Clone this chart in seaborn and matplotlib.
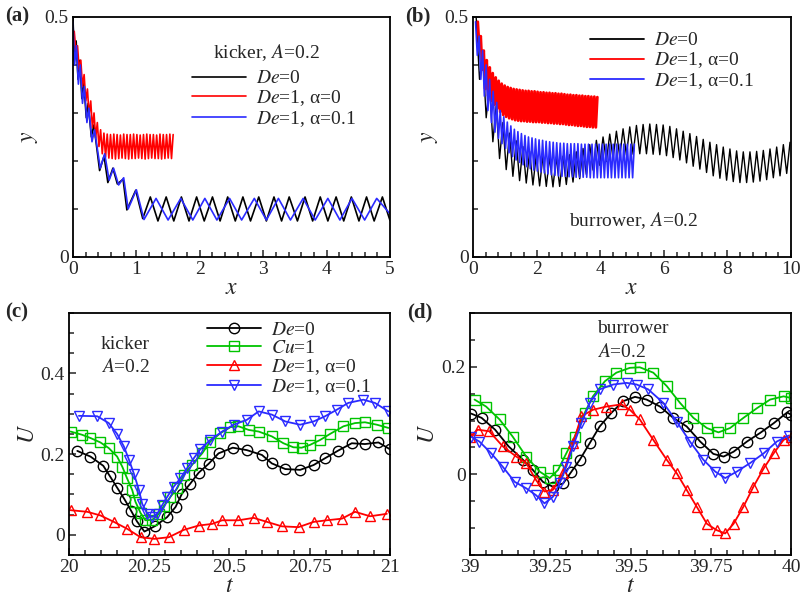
import matplotlib
matplotlib.use("Agg")
import matplotlib.pyplot as plt
from matplotlib.ticker import MultipleLocator, FormatStrFormatter
import seaborn as sns

# ---------------- data ----------------
# (a) kicker trajectories: turning points (x, y)
black_a_x = [0.00, 0.02, 0.05, 0.08, 0.11, 0.14, 0.17, 0.21, 0.24, 0.29, 0.33, 0.42, 0.49, 0.55,
             0.63, 0.70, 0.79, 0.85, 0.99, 1.10, 1.22, 1.34, 1.47, 1.59, 1.71, 1.83, 1.95, 2.07,
             2.20, 2.32, 2.44, 2.56, 2.68, 2.80, 2.93, 3.05, 3.17, 3.29, 3.41, 3.54, 3.66, 3.78,
             3.90, 4.02, 4.15, 4.27, 4.39, 4.51, 4.63, 4.75, 4.88, 5.00]
black_a_y = [0.50, 0.41, 0.45, 0.37, 0.41, 0.33, 0.365, 0.29, 0.32, 0.25, 0.275, 0.18, 0.21, 0.155,
             0.185, 0.152, 0.162, 0.098, 0.139, 0.080, 0.125, 0.075, 0.125, 0.075, 0.125, 0.075,
             0.125, 0.075, 0.125, 0.075, 0.125, 0.075, 0.125, 0.075, 0.125, 0.075, 0.125, 0.075,
             0.125, 0.075, 0.125, 0.075, 0.125, 0.075, 0.125, 0.075, 0.125, 0.075, 0.125, 0.075,
             0.125, 0.076]
blue_a_x = [0.00, 0.025, 0.055, 0.085, 0.115, 0.15, 0.18, 0.22, 0.25, 0.30, 0.34, 0.43, 0.50, 0.57,
            0.64, 0.72, 0.80, 0.87, 1.00, 1.12, 1.31, 1.50, 1.70, 1.89, 2.08, 2.27, 2.47, 2.66,
            2.86, 3.05, 3.24, 3.43, 3.63, 3.82, 4.02, 4.21, 4.40, 4.60, 4.79, 5.00]
blue_a_y = [0.49, 0.40, 0.44, 0.36, 0.40, 0.32, 0.355, 0.28, 0.31, 0.24, 0.265, 0.185, 0.215, 0.16,
            0.185, 0.15, 0.165, 0.10, 0.14, 0.078, 0.122, 0.077, 0.122, 0.077, 0.122, 0.077, 0.122,
            0.077, 0.122, 0.077, 0.122, 0.077, 0.122, 0.077, 0.122, 0.077, 0.122, 0.077, 0.122, 0.09]
# dense bands: crest / trough of every stroke, first crest x and stroke length
red_a_x0, red_a_step = 0.02, 0.052
red_a_hi = [0.47, 0.44, 0.41, 0.38, 0.35, 0.325, 0.30, 0.28, 0.265, 0.258,
            0.256, 0.255, 0.256, 0.255, 0.254, 0.256, 0.255, 0.255, 0.256, 0.255,
            0.254, 0.255, 0.256, 0.255, 0.255, 0.254, 0.256, 0.255, 0.255, 0.256, 0.255]
red_a_lo = [0.43, 0.39, 0.355, 0.325, 0.295, 0.27, 0.248, 0.23, 0.215, 0.208,
            0.206, 0.205, 0.204, 0.205, 0.206, 0.205, 0.204, 0.205, 0.205, 0.206,
            0.205, 0.204, 0.205, 0.206, 0.205, 0.205, 0.204, 0.205, 0.206, 0.205]

# (b) burrower trajectories
black_b_x0, black_b_step = 0.10, 0.21
black_b_hi = [0.50, 0.42, 0.36, 0.315, 0.28, 0.258, 0.242, 0.23, 0.22, 0.213,
              0.21, 0.208, 0.208, 0.21, 0.213, 0.219, 0.226, 0.234, 0.243, 0.25,
              0.256, 0.262, 0.267, 0.271, 0.274, 0.276, 0.277, 0.276, 0.275, 0.272,
              0.267, 0.262, 0.257, 0.251, 0.245, 0.239, 0.234, 0.229, 0.225, 0.221,
              0.219, 0.219, 0.22, 0.222, 0.225, 0.229, 0.234, 0.239]
black_b_lo = [0.37, 0.29, 0.24, 0.205, 0.182, 0.168, 0.159, 0.154, 0.15, 0.148,
              0.147, 0.146, 0.147, 0.151, 0.156, 0.163, 0.172, 0.181, 0.191, 0.199,
              0.205, 0.209, 0.212, 0.214, 0.215, 0.215, 0.214, 0.213, 0.211, 0.207,
              0.202, 0.196, 0.189, 0.183, 0.176, 0.169, 0.164, 0.16, 0.157, 0.155,
              0.155, 0.156, 0.158, 0.161, 0.165, 0.169, 0.174]
red_b_x0, red_b_step = 0.15, 0.094
red_b_hi = [0.49, 0.46, 0.43, 0.41, 0.395, 0.383, 0.374, 0.367, 0.361, 0.357,
            0.354, 0.352, 0.35, 0.349, 0.348, 0.347, 0.346, 0.346, 0.345, 0.345,
            0.344, 0.343, 0.343, 0.342, 0.342, 0.341, 0.341, 0.34, 0.34, 0.339,
            0.338, 0.338, 0.337, 0.337, 0.336, 0.336, 0.335, 0.335, 0.334, 0.334, 0.333]
red_b_lo = [0.44, 0.39, 0.35, 0.335, 0.325, 0.317, 0.309, 0.302, 0.296, 0.292,
            0.289, 0.287, 0.285, 0.284, 0.283, 0.283, 0.282, 0.282, 0.281, 0.281,
            0.281, 0.28, 0.28, 0.279, 0.279, 0.278, 0.278, 0.277, 0.277, 0.276,
            0.275, 0.275, 0.274, 0.273, 0.273, 0.272, 0.271, 0.271, 0.27, 0.27]
blue_b_x0, blue_b_step = 0.08, 0.111
blue_b_hi = [0.49, 0.46, 0.43, 0.40, 0.37, 0.345, 0.322, 0.305, 0.292, 0.281,
             0.273, 0.266, 0.261, 0.257, 0.253, 0.25, 0.248, 0.246, 0.244, 0.243,
             0.241, 0.24, 0.239, 0.238, 0.237, 0.237, 0.236, 0.236, 0.236, 0.236,
             0.235, 0.235, 0.235, 0.235, 0.235, 0.235, 0.235, 0.235, 0.235, 0.235,
             0.235, 0.235, 0.235, 0.235, 0.235, 0.235]
blue_b_lo = [0.42, 0.37, 0.335, 0.305, 0.28, 0.26, 0.247, 0.236, 0.226, 0.217,
             0.209, 0.202, 0.197, 0.192, 0.188, 0.184, 0.181, 0.179, 0.177, 0.175,
             0.173, 0.171, 0.17, 0.169, 0.168, 0.168, 0.167, 0.167, 0.166, 0.166,
             0.166, 0.166, 0.165, 0.165, 0.165, 0.165, 0.165, 0.165, 0.165, 0.165,
             0.165, 0.165, 0.165, 0.165, 0.165]

# (c) kicker swimming speed U(t)
c_black_t = [20.026, 20.067, 20.107, 20.127, 20.150, 20.173, 20.194, 20.212, 20.235, 20.269,
             20.306, 20.332, 20.352, 20.378, 20.404, 20.435, 20.466, 20.510, 20.554, 20.601,
             20.632, 20.674, 20.720, 20.762, 20.798, 20.839, 20.881, 20.922, 20.964, 21.0]
c_black_u = [0.208, 0.194, 0.171, 0.146, 0.117, 0.088, 0.059, 0.033, 0.008, 0.022,
             0.044, 0.069, 0.102, 0.127, 0.154, 0.176, 0.202, 0.216, 0.210, 0.198,
             0.177, 0.163, 0.161, 0.173, 0.190, 0.209, 0.227, 0.225, 0.229, 0.212]
c_green_t = [20.005, 20.041, 20.067, 20.098, 20.124, 20.150, 20.166, 20.181, 20.197, 20.207,
             20.223, 20.238, 20.259, 20.280, 20.295, 20.316, 20.337, 20.357, 20.383, 20.415,
             20.440, 20.472, 20.503, 20.528, 20.560, 20.591, 20.632, 20.668, 20.699, 20.725,
             20.751, 20.782, 20.813, 20.855, 20.891, 20.922, 20.959, 20.995]
c_green_u = [0.256, 0.248, 0.240, 0.229, 0.215, 0.194, 0.169, 0.140, 0.111, 0.082,
             0.054, 0.036, 0.037, 0.052, 0.071, 0.094, 0.115, 0.148, 0.173, 0.202,
             0.231, 0.252, 0.267, 0.269, 0.260, 0.256, 0.244, 0.227, 0.217, 0.216,
             0.223, 0.235, 0.250, 0.269, 0.277, 0.279, 0.273, 0.265]
c_red_t = [20.005, 20.057, 20.098, 20.140, 20.181, 20.223, 20.266, 20.311, 20.357, 20.404,
           20.446, 20.477, 20.528, 20.575, 20.617, 20.663, 20.715, 20.762, 20.803, 20.850,
           20.891, 20.938, 20.990]
c_red_u = [0.061, 0.057, 0.048, 0.032, 0.015, -0.006, -0.010, -0.006, 0.012, 0.023,
           0.027, 0.036, 0.036, 0.042, 0.032, 0.021, 0.019, 0.032, 0.036, 0.040,
           0.057, 0.046, 0.052]
c_blue_t = [20.031, 20.088, 20.124, 20.150, 20.171, 20.187, 20.202, 20.218, 20.228, 20.244,
            20.259, 20.275, 20.290, 20.306, 20.326, 20.347, 20.368, 20.389, 20.409, 20.440,
            20.477, 20.513, 20.554, 20.591, 20.632, 20.674, 20.720, 20.762, 20.798, 20.834,
            20.870, 20.917, 20.953, 20.995]
c_blue_u = [0.295, 0.294, 0.277, 0.250, 0.219, 0.186, 0.152, 0.111, 0.077, 0.052,
            0.044, 0.052, 0.073, 0.094, 0.119, 0.140, 0.165, 0.190, 0.212, 0.235,
            0.256, 0.273, 0.285, 0.306, 0.298, 0.281, 0.273, 0.281, 0.294, 0.310,
            0.327, 0.335, 0.327, 0.306]

# (d) burrower swimming speed U(t)
d_black_t = [39.003, 39.036, 39.078, 39.120, 39.165, 39.196, 39.227, 39.258, 39.290, 39.316,
             39.342, 39.373, 39.404, 39.440, 39.477, 39.514, 39.550, 39.592, 39.633, 39.675,
             39.717, 39.758, 39.790, 39.821, 39.863, 39.904, 39.946, 39.988, 40.0]
d_black_u = [0.113, 0.105, 0.083, 0.052, 0.027, 0.008, -0.014, -0.023, -0.017, 0.005,
             0.027, 0.058, 0.089, 0.114, 0.136, 0.144, 0.139, 0.126, 0.105, 0.089,
             0.061, 0.038, 0.033, 0.042, 0.061, 0.077, 0.095, 0.115, 0.111]
d_green_t = [39.014, 39.050, 39.092, 39.133, 39.175, 39.217, 39.248, 39.274, 39.300, 39.326,
             39.357, 39.383, 39.420, 39.456, 39.498, 39.529, 39.571, 39.613, 39.654, 39.696,
             39.738, 39.774, 39.810, 39.852, 39.894, 39.935, 39.977, 40.0]
d_green_u = [0.139, 0.126, 0.102, 0.070, 0.033, 0.005, -0.007, 0.008, 0.039, 0.070,
             0.114, 0.145, 0.173, 0.189, 0.198, 0.199, 0.189, 0.164, 0.133, 0.105,
             0.086, 0.078, 0.086, 0.105, 0.123, 0.139, 0.145, 0.142]
d_red_t = [39.0, 39.024, 39.060, 39.102, 39.144, 39.175, 39.206, 39.232, 39.258, 39.290,
           39.321, 39.347, 39.383, 39.425, 39.472, 39.498, 39.529, 39.571, 39.613, 39.644,
           39.675, 39.706, 39.738, 39.769, 39.795, 39.821, 39.852, 39.883, 39.915, 39.946,
           39.977, 40.0]
d_red_u = [0.070, 0.083, 0.080, 0.052, 0.033, 0.021, -0.011, -0.032, -0.029, 0.002,
           0.058, 0.108, 0.120, 0.126, 0.130, 0.120, 0.102, 0.064, 0.027, 0.002,
           -0.029, -0.060, -0.092, -0.104, -0.110, -0.092, -0.060, -0.023, 0.011, 0.039,
           0.064, 0.070]
d_blue_t = [39.003, 39.029, 39.066, 39.102, 39.139, 39.175, 39.206, 39.232, 39.258, 39.279,
            39.300, 39.321, 39.347, 39.373, 39.404, 39.446, 39.488, 39.519, 39.555, 39.602,
            39.644, 39.685, 39.727, 39.764, 39.795, 39.831, 39.873, 39.915, 39.956, 39.993]
d_blue_u = [0.070, 0.061, 0.039, 0.014, -0.014, -0.026, -0.039, -0.054, -0.042, -0.017,
            0.014, 0.052, 0.095, 0.133, 0.158, 0.167, 0.170, 0.167, 0.158, 0.133,
            0.098, 0.061, 0.027, 0.005, -0.007, 0.005, 0.021, 0.039, 0.061, 0.072]

lab_de0 = r'$De$=0'
lab_cu1 = r'$Cu$=1'
lab_a0 = r'$De$=1, α=0'
lab_a01 = r'$De$=1, α=0.1'
GREEN = '#00c400'
BLUE = '#2b2bff'


def zigzag(x0, step, hi, lo):
    # one crest per stroke, trough half a stroke later
    xs, ys = [], []
    for k, h in enumerate(hi):
        xs.append(x0 + k * step)
        ys.append(h)
        if k < len(lo):
            xs.append(x0 + (k + 0.5) * step)
            ys.append(lo[k])
    return xs, ys


# ---------------- style ----------------
sns.set_theme(style="ticks")
plt.rcParams['font.family'] = ['Liberation Serif', 'DejaVu Serif']
plt.rcParams['mathtext.fontset'] = 'stix'
plt.rcParams['axes.linewidth'] = 1.3

fig = plt.figure(figsize=(8.01, 5.99), dpi=100)
ax_a = fig.add_axes([0.0911, 0.5710, 0.3958, 0.4007])
ax_b = fig.add_axes([0.5905, 0.5710, 0.3970, 0.4007])
ax_c = fig.add_axes([0.0861, 0.0735, 0.4008, 0.4040])
ax_d = fig.add_axes([0.5868, 0.0735, 0.4007, 0.4040])


def style_axis(ax, xmaj, xmin, ymaj, ymin):
    ax.xaxis.set_major_locator(MultipleLocator(xmaj))
    ax.xaxis.set_minor_locator(MultipleLocator(xmin))
    ax.yaxis.set_major_locator(MultipleLocator(ymaj))
    ax.yaxis.set_minor_locator(MultipleLocator(ymin))
    ax.xaxis.set_major_formatter(FormatStrFormatter('%g'))
    ax.yaxis.set_major_formatter(FormatStrFormatter('%g'))
    ax.tick_params(which='both', direction='in', top=False, right=False, width=1.1,
                   labelsize=14, pad=3)
    ax.tick_params(which='major', length=5)
    ax.tick_params(which='minor', length=3.5)
    for s in ax.spines.values():
        s.set_color('black')


line_kw = dict(sort=False, estimator=None)

# (a) kicker trajectories
sns.lineplot(x=black_a_x, y=black_a_y, ax=ax_a, color='black', lw=1.2, label=lab_de0, **line_kw)
rx, ry = zigzag(red_a_x0, red_a_step, red_a_hi, red_a_lo)
sns.lineplot(x=rx, y=ry, ax=ax_a, color='red', lw=1.2, label=lab_a0, **line_kw)
sns.lineplot(x=blue_a_x, y=blue_a_y, ax=ax_a, color=BLUE, lw=1.2, label=lab_a01, **line_kw)
ax_a.set_xlim(0, 5)
ax_a.set_ylim(0, 0.5)
style_axis(ax_a, 1, 0.2, 0.5, 0.1)
ax_a.text(0.61, 0.85, r'kicker, $A$=0.2', transform=ax_a.transAxes, ha='center', va='center',
          fontsize=14)
ax_a.legend(loc='upper left', bbox_to_anchor=(0.375, 0.78), frameon=False, fontsize=14,
            handlelength=2.8, handletextpad=0.5, labelspacing=0.05, borderpad=0, borderaxespad=0)

# (b) burrower trajectories
bx, by = zigzag(black_b_x0, black_b_step, black_b_hi, black_b_lo)
sns.lineplot(x=bx, y=by, ax=ax_b, color='black', lw=1.0, label=lab_de0, **line_kw)
rx, ry = zigzag(red_b_x0, red_b_step, red_b_hi, red_b_lo)
sns.lineplot(x=rx, y=ry, ax=ax_b, color='red', lw=2.0, label=lab_a0, **line_kw)
ux, uy = zigzag(blue_b_x0, blue_b_step, blue_b_hi, blue_b_lo)
sns.lineplot(x=ux, y=uy, ax=ax_b, color=BLUE, lw=1.2, label=lab_a01, **line_kw)
ax_b.set_xlim(0, 10)
ax_b.set_ylim(0, 0.5)
style_axis(ax_b, 2, 0.4, 0.5, 0.1)
ax_b.text(0.505, 0.15, r'burrower, $A$=0.2', transform=ax_b.transAxes, ha='center',
          va='center', fontsize=14)
leg = ax_b.legend(loc='upper left', bbox_to_anchor=(0.368, 0.938), frameon=False, fontsize=14,
                  handlelength=2.8, handletextpad=0.5, labelspacing=0.05, borderpad=0,
                  borderaxespad=0)
for h in leg.get_lines():
    h.set_linewidth(1.3)


# (c) and (d) speed curves with hollow markers
def speed_curves(ax, series, legend):
    for t, u, color, marker, lab in series:
        sns.lineplot(x=t, y=u, ax=ax, color=color, lw=1.3, marker=marker, markersize=7.5,
                     markerfacecolor='none', markeredgecolor=color, markeredgewidth=1.0,
                     label=lab, legend=legend, **line_kw)


speed_curves(ax_c, [(c_black_t, c_black_u, 'black', 'o', lab_de0),
                    (c_green_t, c_green_u, GREEN, 's', lab_cu1),
                    (c_red_t, c_red_u, 'red', '^', lab_a0),
                    (c_blue_t, c_blue_u, BLUE, 'v', lab_a01)], True)
ax_c.set_xlim(20, 21)
ax_c.set_ylim(-0.05, 0.55)
style_axis(ax_c, 0.25, 0.05, 0.2, 0.05)
ax_c.text(0.1, 0.868, 'kicker', transform=ax_c.transAxes, ha='left', va='center', fontsize=14)
ax_c.text(0.1, 0.777, r'$A$=0.2', transform=ax_c.transAxes, ha='left', va='center', fontsize=14)
ax_c.legend(loc='upper left', bbox_to_anchor=(0.429, 0.964), frameon=False, fontsize=14,
            handlelength=2.8, handletextpad=0.5, labelspacing=0.0, borderpad=0, borderaxespad=0)

speed_curves(ax_d, [(d_black_t, d_black_u, 'black', 'o', lab_de0),
                    (d_green_t, d_green_u, GREEN, 's', lab_cu1),
                    (d_red_t, d_red_u, 'red', '^', lab_a0),
                    (d_blue_t, d_blue_u, BLUE, 'v', lab_a01)], False)
ax_d.set_xlim(39, 40)
ax_d.set_ylim(-0.15, 0.3)
style_axis(ax_d, 0.25, 0.05, 0.2, 0.05)
ax_d.text(0.395, 0.934, 'burrower', transform=ax_d.transAxes, ha='left', va='center', fontsize=14)
ax_d.text(0.395, 0.839, r'$A$=0.2', transform=ax_d.transAxes, ha='left', va='center', fontsize=14)

# axis labels, placed where the reference has them
for ax, xl, yl, yx in [(ax_a, 'x', 'y', -0.104), (ax_b, 'x', 'y', -0.104),
                       (ax_c, 't', 'U', -0.093), (ax_d, 't', 'U', -0.097)]:
    ax.set_xlabel('$%s$' % xl, fontsize=17, labelpad=0)
    ax.set_ylabel('$%s$' % yl, fontsize=17)
    ax.yaxis.set_label_coords(yx, 0.5)

# panel letters
for x, y, s in [(0.006, 0.972, '(a)'), (0.506, 0.972, '(b)'),
                (0.006, 0.478, '(c)'), (0.508, 0.478, '(d)')]:
    fig.text(x, y, s, fontsize=15, fontweight='bold', va='center', ha='left')

fig.savefig('out.png', dpi=100)
